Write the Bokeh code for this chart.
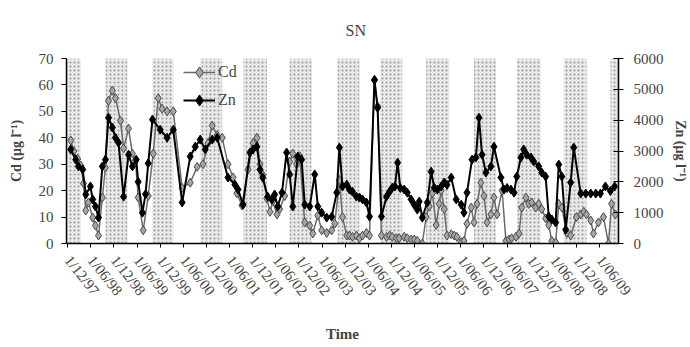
import math
from bokeh.plotting import figure
from bokeh.models import Range1d, LinearAxis, FixedTicker, Legend, LegendItem
from bokeh.embed import file_html
from bokeh.resources import INLINE

# x positions are months counted from 1 Dec 1997
tick_months = [0, 6, 12, 18, 24, 30, 36, 42, 48, 54, 60, 66, 72, 78, 84, 90,
               96, 102, 108, 114, 120, 126, 132, 138]
tick_labels = ["1/12/97", "1/06/98", "1/12/98", "1/06/99", "1/12/99", "1/06/00",
               "1/12/00", "1/06/01", "1/12/01", "1/06/02", "1/12/02", "1/06/03",
               "1/12/03", "1/06/04", "1/12/04", "1/06/05", "1/12/05", "1/06/06",
               "1/12/06", "1/06/07", "1/12/07", "1/06/08", "1/12/08", "1/06/09"]

band_start = [-0.3, 9.8, 22.0, 34.4, 45.5, 57.6, 70.0, 81.1, 93.0, 105.4, 116.5, 128.7, 140.8]
band_end = [3.4, 15.5, 27.4, 40.1, 51.7, 63.3, 75.7, 86.8, 99.0, 111.1, 122.7, 134.6, 142.9]

zn_month = [0.8, 2.1, 2.8, 3.9, 4.7, 5.9, 6.5, 7.2, 8.0, 9.0,
            9.8, 10.6, 11.6, 12.4, 13.2, 14.5, 15.8, 16.8, 17.8, 18.3,
            19.4, 20.2, 20.9, 22.0, 24.0, 25.8, 27.4, 29.7, 31.8, 33.1,
            34.4, 35.7, 37.5, 38.8, 41.6, 43.4, 44.2, 45.5, 47.3, 48.1,
            49.1, 49.9, 50.6, 51.9, 53.0, 53.7, 54.5, 55.6, 56.8, 57.6,
            58.4, 59.7, 60.7, 61.5, 62.8, 64.1, 64.9, 65.9, 67.2, 68.5,
            69.8, 70.5, 71.3, 72.4, 73.1, 73.9, 74.9, 75.7, 76.5, 77.5,
            78.3, 79.6, 80.4, 81.4, 82.7, 83.5, 84.2, 84.9, 85.6, 86.3,
            87.3, 88.1, 89.1, 89.9, 90.7, 91.2, 92.0, 93.3, 94.3, 95.1,
            95.9, 96.9, 97.7, 98.4, 99.5, 100.8, 102.1, 102.8, 103.6, 104.9,
            105.9, 106.7, 107.5, 108.5, 109.8, 110.6, 112.4, 113.2, 114.0, 115.0,
            115.8, 116.5, 117.6, 118.3, 119.1, 120.2, 120.9, 122.2, 123.0, 124.0,
            124.8, 125.6, 126.6, 127.4, 128.2, 129.2, 130.5, 131.3, 133.1, 134.4,
            135.7, 137.0, 138.2, 139.5, 140.8, 141.9]
zn_ugl = [3050, 2720, 2500, 2400, 1590, 1850, 1430, 1200, 840, 2500,
          2720, 4080, 3760, 3430, 3270, 1520, 2880, 2500, 2720, 2000,
          1000, 1600, 2600, 4020, 3690, 3430, 3690, 1330, 2820, 3140,
          3370, 3050, 3370, 3430, 2140, 1910, 1750, 1260, 2950, 3050,
          3140, 2400, 2140, 1520, 1430, 1590, 1200, 1650, 2950, 2240,
          1200, 2820, 2720, 1260, 1200, 2240, 1200, 1000, 840, 870,
          1650, 3110, 1850, 1910, 1750, 1680, 1520, 1490, 1430, 1330,
          875, 5300, 4400, 875, 1520, 1680, 1810, 1850, 2620, 1800,
          1750, 1650, 1430, 1260, 1100, 1360, 840, 1330, 2330, 1810,
          1750, 1850, 1980, 1900, 2140, 1430, 1260, 1000, 1650, 2720,
          2790, 4080, 2880, 2300, 2500, 3140, 2140, 1750, 1800, 1750,
          1650, 2170, 2790, 3050, 2880, 2790, 2660, 2500, 2300, 2170,
          875, 780, 680, 2560, 2170, 450, 1980, 3110, 1620, 1620,
          1620, 1620, 1620, 1850, 1700, 1850]

cd_month = [0.8, 1.6, 2.6, 3.4, 4.1, 4.7, 5.4, 6.5, 7.2, 8.0,
            9.0, 9.8, 10.6, 11.6, 12.4, 13.7, 14.5, 15.8, 16.8, 17.6,
            18.3, 19.6, 20.9, 22.2, 23.5, 24.5, 25.8, 27.4, 29.7, 31.8,
            33.6, 35.1, 36.4, 37.5, 38.8, 40.1, 41.6, 42.9, 43.9, 45.2,
            46.8, 48.1, 49.1, 49.9, 50.6, 51.7, 52.5, 53.2, 54.3, 55.0,
            56.3, 57.6, 58.4, 59.4, 60.2, 61.5, 62.8, 63.6, 64.9, 65.9,
            67.2, 68.5, 69.3, 70.5, 71.3, 72.4, 73.1, 73.9, 74.9, 75.7,
            76.5, 77.5, 78.3, 79.6, 80.4, 81.4, 82.7, 83.5, 84.2, 85.3,
            86.0, 87.3, 88.1, 89.1, 89.9, 90.7, 92.0, 93.0, 93.8, 94.6,
            95.6, 96.4, 96.9, 97.7, 98.4, 99.5, 100.3, 101.0, 102.1, 102.8,
            103.6, 104.7, 105.4, 106.2, 107.2, 108.0, 108.8, 109.8, 110.6, 111.4,
            112.7, 113.7, 114.5, 115.2, 116.3, 117.1, 117.8, 118.9, 119.6, 120.4,
            121.4, 122.2, 123.0, 124.0, 124.8, 125.6, 126.6, 127.4, 128.2, 129.5,
            130.5, 132.0, 133.1, 133.9, 134.6, 135.7, 136.4, 137.7, 139.0, 140.3,
            141.1, 142.1]
cd_ugl = [39, 35, 32, 29.5, 22.7, 12.5, 15.5, 9.8, 6.8, 3,
          17.4, 28.7, 54, 57.8, 55, 46.5, 36, 43.5, 34, 31.4,
          17.4, 5, 18, 34, 55, 51, 50, 50, 21, 23,
          29, 30, 38, 44.6, 41, 40, 30, 25, 19, 14.4,
          28, 38, 40, 30, 26, 17, 12, 16, 11, 13,
          18, 31, 34, 30, 33, 8, 6.8, 3.8, 10.6, 5,
          4, 5, 7.5, 24, 10, 3, 3, 2.5, 3, 2,
          3, 4, 3, 62, 52, 3, 2.5, 3, 2.5, 2,
          2, 2.5, 2, 1.5, 1.5, 1, 0, 10, 14, 19,
          7, 15, 20, 13, 3, 3.5, 3, 2.5, 0.5, 1,
          7.5, 13.6, 8, 15, 23, 18, 8, 11, 17.4, 11,
          20, 1, 1.5, 2, 2.5, 3.8, 13.6, 17.4, 15, 15.5,
          13.6, 15, 13, 9.5, 7, 1, 0.4, 15, 13.6, 4,
          3, 10, 11, 12, 11, 8.7, 3.8, 8, 10, 0,
          15, 11]

cd_ticks = [0, 10, 20, 30, 40, 50, 60, 70]
zn_ticks = [0, 1000, 2000, 3000, 4000, 5000, 6000]

SERIF = "Liberation Serif"

p = figure(width=690, height=345, output_backend="svg", toolbar_location=None,
           x_range=Range1d(-0.3, 142.9), y_range=Range1d(0, 70),
           min_border_left=66, min_border_right=70, min_border_top=58,
           min_border_bottom=102, title="SN")
p.title.align = "left"
p.title.offset = 279
p.title.text_font = SERIF
p.title.text_font_size = "16px"
p.title.text_font_style = "normal"
p.title.vertical_align = "top"
p.title.standoff = 36
p.outline_line_color = None
p.grid.visible = False
p.background_fill_color = "white"

p.extra_y_ranges = {"zn": Range1d(0, 6000)}

p.quad(left=band_start, right=band_end, bottom=0, top=70,
       fill_color="#e8e8e8", line_color=None,
       hatch_pattern="dot", hatch_color="#999999", hatch_scale=4, hatch_weight=1)

cd_line = p.line(cd_month, cd_ugl, line_color="#6a6a6a", line_width=1.5)
cd_pts = p.scatter(cd_month, cd_ugl, marker="diamond", size=9,
                   fill_color="#a5a5a5", line_color="#4a4a4a", line_width=1)
zn_line = p.line(zn_month, zn_ugl, y_range_name="zn", line_color="black", line_width=2)
zn_pts = p.scatter(zn_month, zn_ugl, y_range_name="zn", marker="diamond", size=9,
                   fill_color="black", line_color="black")

# x axis
xa = p.xaxis[0]
xa.ticker = FixedTicker(ticks=tick_months)
xa.major_label_overrides = {m: lab for m, lab in zip(tick_months, tick_labels)}
xa.major_label_orientation = -0.9
xa.major_label_text_font = SERIF
xa.major_label_text_font_size = "15px"
xa.major_label_standoff = 10
xa.major_tick_out = 4
xa.major_tick_in = 0
xa.minor_tick_line_color = None
xa.axis_label = "Time"
xa.axis_label_text_font = SERIF
xa.axis_label_text_font_style = "bold"
xa.axis_label_text_font_size = "15px"
xa.axis_label_standoff = 20
xa.axis_line_width = 1.5

# left axis
ya = p.yaxis[0]
ya.ticker = FixedTicker(ticks=cd_ticks)
ya.major_label_text_font = SERIF
ya.major_label_text_font_size = "15px"
ya.major_tick_out = 5
ya.major_tick_in = 0
ya.minor_tick_line_color = None
ya.major_label_standoff = 8
ya.axis_label = "Cd (μg l⁻¹)"
ya.axis_label_text_font = SERIF
ya.axis_label_text_font_style = "bold"
ya.axis_label_text_font_size = "14px"
ya.axis_label_standoff = 12
ya.axis_line_width = 1.5

# right axis
za = LinearAxis(y_range_name="zn", ticker=FixedTicker(ticks=zn_ticks))
za.major_label_text_font = SERIF
za.major_label_text_font_size = "15px"
za.major_tick_out = 5
za.major_tick_in = 5
za.minor_tick_line_color = None
za.major_label_standoff = 10
za.axis_label = "Zn (μg l⁻¹)"
za.axis_label_text_font = SERIF
za.axis_label_text_font_style = "bold"
za.axis_label_text_font_size = "14px"
za.axis_label_standoff = 6
za.axis_line_width = 1.5
p.add_layout(za, "right")

legend = Legend(items=[LegendItem(label="Cd", renderers=[cd_line, cd_pts]),
                       LegendItem(label="Zn", renderers=[zn_line, zn_pts])],
                location=(117, 129), border_line_color=None, background_fill_alpha=0,
                glyph_width=32, glyph_height=28, label_height=28, spacing=0,
                padding=0, margin=0, label_standoff=3,
                label_text_font=SERIF, label_text_font_size="16px")
p.add_layout(legend)

open("out.html", "w").write(file_html(p, INLINE))
